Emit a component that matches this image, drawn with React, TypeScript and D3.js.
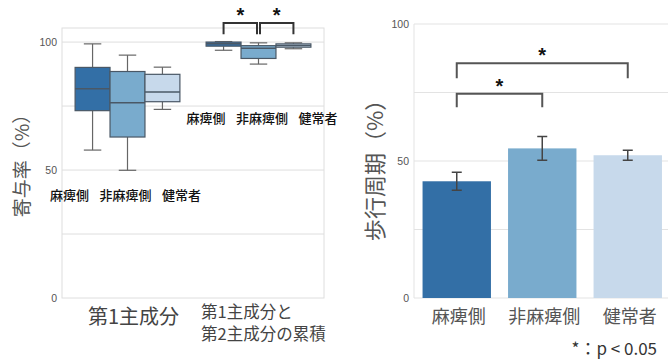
import React from "react";
import * as d3 from "d3";

const W = 668;
const H = 360;

// left panel: contribution ratio (box plots)
const groups = ["第1主成分", "第1主成分と第2主成分の累積"];
const subjects = ["麻痺側", "非麻痺側", "健常者"];
// [whisker low, q1, median, q3, whisker high]
const pc1Stats = [
  [57.8, 73.2, 81.8, 90.1, 99.3],
  [49.9, 62.9, 76.3, 88.5, 94.9],
  [73.7, 76.7, 80.5, 87.4, 90.2],
];
const cumStats = [
  [96.8, 98.4, 99.3, 100.0, 100.2],
  [91.4, 93.6, 97.6, 98.6, 99.7],
  [97.4, 98.0, 98.7, 99.3, 99.7],
];
const leftTicks = [0, 50, 100];
const leftGrid = [25, 50, 75, 100];
const leftPairs = [[0, 1], [1, 2]];

// right panel: gait cycle (bar chart)
const barMeans = [42.6, 54.6, 52.1];
const barErr = [3.3, 4.3, 1.8];
const rightTicks = [0, 50, 100];
const rightGrid = [25, 50, 75, 100];
// [i, j, bracket level, leg end]
const rightPairs = [
  [0, 2, 85.7, 80.2],
  [0, 1, 74.5, 69.6],
];

const colors = ["#336fa6", "#79abcd", "#c7d9eb"];
const jp = "'Noto Sans CJK JP', 'Noto Sans', sans-serif";
const num = "'Liberation Sans', Arial, sans-serif";

export default function App() {
  // left scales
  const lx = d3.scaleBand().domain(groups).range([62, 324]);
  const ly = d3.scaleLinear().domain([0, 105.5]).range([298, 28]);
  const bw = lx.bandwidth();
  const sub = d3.scaleBand().domain(subjects).range([bw * 0.1, bw * 0.9]);
  const boxW = sub.bandwidth();

  // right scales
  const rx = d3.scaleBand().domain(subjects).range([414, 670.5]).paddingInner(0.2).paddingOuter(0.1);
  const ry = d3.scaleLinear().domain([0, 100]).range([298, 24]);

  const statsByGroup = [pc1Stats, cumStats];
  const rowY = [40.2, 70.3];
  const rowShift = [-2, 3.5];

  const boxCenter = (g: string, s: string) => (lx(g) as number) + (sub(s) as number) + boxW / 2;

  return (
    <svg width={W} height={H} style={{ position: "absolute", left: 0, top: 0, background: "#fff" }}>
      {/* ---------- left panel ---------- */}
      {leftGrid.map((t) => (
        <line key={"lg" + t} x1={62} x2={324} y1={ly(t)} y2={ly(t)} stroke="#dedede" strokeWidth={1} />
      ))}
      <rect x={62} y={28} width={262} height={270} fill="none" stroke="#dedede" strokeWidth={1} />
      {leftTicks.map((t) => (
        <text key={"lt" + t} x={57} y={ly(t)} dy="0.35em" textAnchor="end" fontFamily={num} fontSize={10.5} fill="#555">
          {t}
        </text>
      ))}
      <text
        transform={`translate(22,${161}) rotate(-90)`}
        textAnchor="middle"
        dy="0.35em"
        fontFamily={jp}
        fontSize={19}
        fill="#555"
      >
        寄与率（%）
      </text>

      {groups.map((g, gi) =>
        statsByGroup[gi].map((st, si) => {
          const s = subjects[si];
          const x0 = (lx(g) as number) + (sub(s) as number);
          const cx = x0 + boxW / 2;
          const [lo, q1, md, q3, hi] = st;
          return (
            <g key={g + s}>
              <line x1={cx} x2={cx} y1={ly(hi)} y2={ly(q3)} stroke="#666" strokeWidth={1.2} />
              <line x1={cx} x2={cx} y1={ly(q1)} y2={ly(lo)} stroke="#666" strokeWidth={1.2} />
              <line x1={cx - boxW / 4} x2={cx + boxW / 4} y1={ly(hi)} y2={ly(hi)} stroke="#666" strokeWidth={1.2} />
              <line x1={cx - boxW / 4} x2={cx + boxW / 4} y1={ly(lo)} y2={ly(lo)} stroke="#666" strokeWidth={1.2} />
              <rect x={x0} y={ly(q3)} width={boxW} height={ly(q1) - ly(q3)} fill={colors[si]} stroke="#4a5866" strokeWidth={1.2} />
              <line x1={x0} x2={x0 + boxW} y1={ly(md)} y2={ly(md)} stroke="#4a5866" strokeWidth={1.5} />
            </g>
          );
        })
      )}

      {groups.map((g, gi) =>
        subjects.map((s, si) => (
          <text
            key={"row" + g + s}
            x={(lx(g) as number) + bw / 2 + rowShift[gi] + (si - 1) * 56}
            y={ly(rowY[gi])}
            dy="0.35em"
            textAnchor="middle"
            fontFamily={jp}
            fontSize={13}
            fontWeight={500}
            fill="#111"
          >
            {s}
          </text>
        ))
      )}

      {leftPairs.map(([a, b], i) => {
        const x1 = boxCenter(groups[1], subjects[a]) + (i === 1 ? 1.5 : 0);
        const x2 = boxCenter(groups[1], subjects[b]) - (i === 0 ? 1.5 : 0);
        const top = ly(107.5);
        const leg = ly(103.1);
        return (
          <g key={"lp" + i}>
            <path d={`M${x1},${leg}V${top}H${x2}V${leg}`} fill="none" stroke="#333" strokeWidth={2} />
            <text x={(x1 + x2) / 2} y={top - 1} textAnchor="middle" fontFamily={num} fontSize={20} fontWeight="bold" fill="#111">
              *
            </text>
          </g>
        );
      })}

      <text x={(lx(groups[0]) as number) + bw / 2 + 6} y={324} textAnchor="middle" fontFamily={jp} fontSize={20} fill="#444">
        {groups[0]}
      </text>
      <text x={(lx(groups[1]) as number) + 8} y={318} fontFamily={jp} fontSize={16.5} fill="#444">
        <tspan x={(lx(groups[1]) as number) + 8}>第1主成分と</tspan>
        <tspan x={(lx(groups[1]) as number) + 8} dy={22}>第2主成分の累積</tspan>
      </text>

      {/* ---------- right panel ---------- */}
      {rightGrid.map((t) => (
        <line key={"rg" + t} x1={414} x2={W} y1={ry(t)} y2={ry(t)} stroke="#e3e3e3" strokeWidth={1} />
      ))}
      <line x1={414} x2={414} y1={ry(100)} y2={ry(0)} stroke="#e3e3e3" strokeWidth={1} />
      <line x1={414} x2={W} y1={ry(0)} y2={ry(0)} stroke="#e3e3e3" strokeWidth={1} />
      {rightTicks.map((t) => (
        <text key={"rt" + t} x={409} y={ry(t)} dy="0.35em" textAnchor="end" fontFamily={num} fontSize={10.5} fill="#555">
          {t}
        </text>
      ))}
      <text
        transform={`translate(375,${165}) rotate(-90)`}
        textAnchor="middle"
        dy="0.35em"
        fontFamily={jp}
        fontSize={22}
        fill="#555"
      >
        歩行周期（%）
      </text>

      {subjects.map((s, i) => {
        const x0 = rx(s) as number;
        const cx = x0 + rx.bandwidth() / 2;
        return (
          <g key={"bar" + s}>
            <rect x={x0} y={ry(barMeans[i])} width={rx.bandwidth()} height={ry(0) - ry(barMeans[i])} fill={colors[i]} />
            <path
              d={`M${cx - 5},${ry(barMeans[i] + barErr[i])}H${cx + 5}M${cx},${ry(barMeans[i] + barErr[i])}V${ry(
                barMeans[i] - barErr[i]
              )}M${cx - 5},${ry(barMeans[i] - barErr[i])}H${cx + 5}`}
              fill="none"
              stroke="#444"
              strokeWidth={1.5}
            />
            <text x={cx + 2} y={323} textAnchor="middle" fontFamily={jp} fontSize={18} fill="#555">
              {s}
            </text>
          </g>
        );
      })}

      {rightPairs.map(([a, b, lvl, legEnd], i) => {
        const x1 = (rx(subjects[a]) as number) + rx.bandwidth() / 2;
        const x2 = (rx(subjects[b]) as number) + rx.bandwidth() / 2;
        return (
          <g key={"rp" + i}>
            <path d={`M${x1},${ry(legEnd)}V${ry(lvl)}H${x2}V${ry(legEnd)}`} fill="none" stroke="#555" strokeWidth={2} />
            <text x={(x1 + x2) / 2} y={ry(lvl) - 1} textAnchor="middle" fontFamily={num} fontSize={20} fontWeight="bold" fill="#111">
              *
            </text>
          </g>
        );
      })}

      <text x={657} y={355} textAnchor="end" fontFamily={jp} fontSize={17} fill="#333">
        *：p &lt; 0.05
      </text>
    </svg>
  );
}
